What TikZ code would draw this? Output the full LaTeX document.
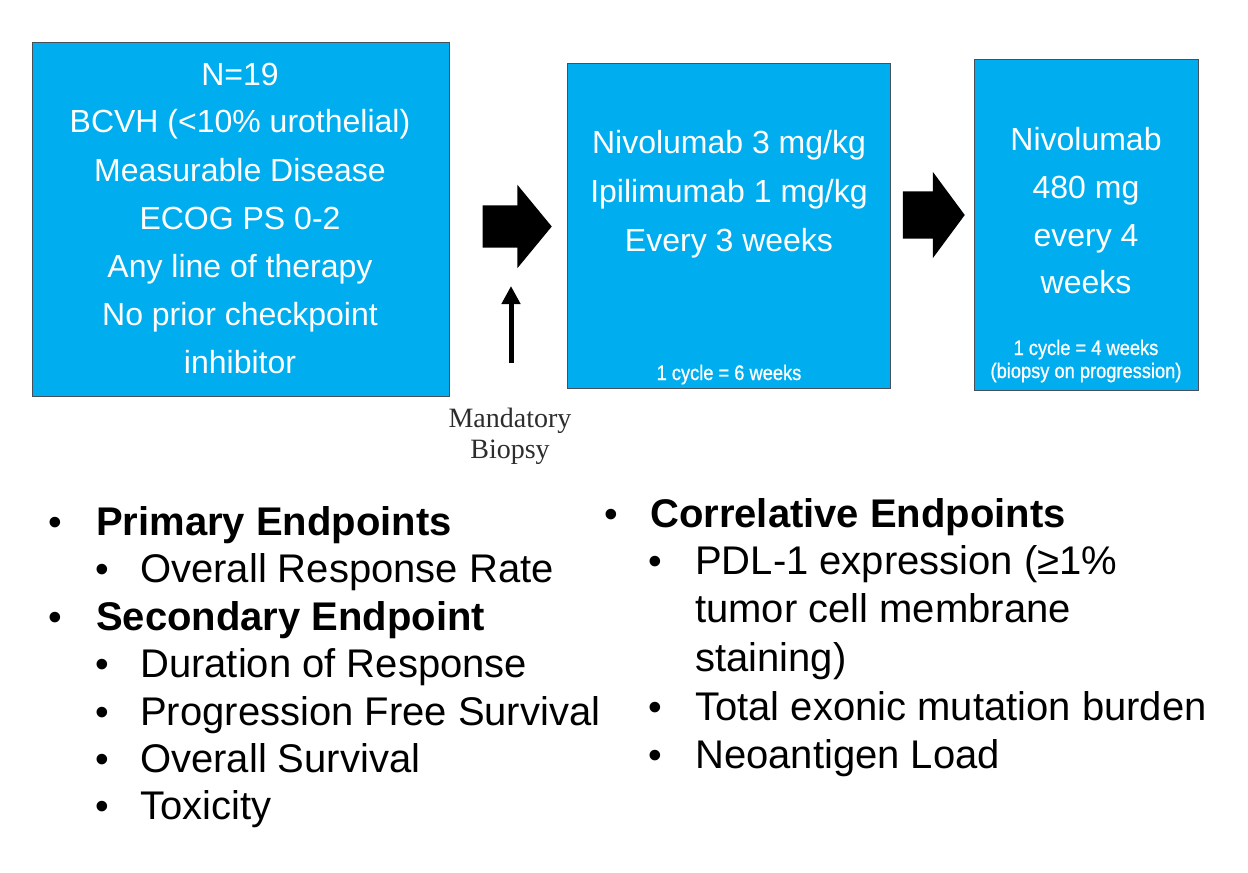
\documentclass[tikz,border=0pt]{standalone}
\usepackage{fontspec}
\setmainfont{Liberation Sans}
\newfontfamily\serifff{Liberation Serif}
\newfontfamily\smallff[FakeStretch=0.87,FakeBold=0.8]{Liberation Sans}
\usetikzlibrary{arrows.meta,shapes.arrows}
\definecolor{boxblue}{RGB}{0,174,239}
\definecolor{boxedge}{RGB}{70,80,90}
\definecolor{labelgray}{RGB}{45,45,45}
\tikzset{
  bluebox/.style={draw=boxedge, line width=1.1pt, fill=boxblue, inner sep=0pt, anchor=north west},
  boxtxt/.style={text=white, font=\fontsize{32}{38}\selectfont, anchor=base, inner sep=0pt},
  smalltxt/.style={text=white, font=\smallff\fontsize{21}{24}\selectfont, anchor=base, inner sep=0pt},
  blockarrow/.style={single arrow, fill=black, draw=none, inner xsep=0pt, single arrow head indent=0pt, anchor=tip},
  listtxt/.style={text=black, font=\fontsize{40}{46}\selectfont, anchor=base west, inner sep=0pt},
  listhead/.style={listtxt, font=\bfseries\fontsize{40}{46}\selectfont},
  bul/.style={text=black, font=\fontsize{39}{44}\selectfont, anchor=base, inner sep=0pt},
  labeltxt/.style={text=labelgray, font=\serifff\fontsize{28}{31}\selectfont, anchor=base, inner sep=0pt}
}
\begin{document}
\begin{tikzpicture}[x=1pt,y=-1pt]
\useasboundingbox (0,0) rectangle (1248,873);
\fill[white] (0,0) rectangle (1248,873);

% boxes
\node[bluebox, minimum width=417pt, minimum height=354pt] (box1) at (32,42) {};
\node[bluebox, minimum width=323pt, minimum height=325pt] (box2) at (567,63) {};
\node[bluebox, minimum width=224pt, minimum height=331pt] (box3) at (974,59) {};

% box 1 text
\node[boxtxt] (b1a) at (240,85) {N=19};
\node[boxtxt] (b1b) at (240,132) {BCVH (<10\% urothelial)};
\node[boxtxt] (b1c) at (240,181) {Measurable Disease};
\node[boxtxt] (b1d) at (240,229) {ECOG PS 0-2};
\node[boxtxt] (b1e) at (240,277) {Any line of therapy};
\node[boxtxt] (b1f) at (240,325) {No prior checkpoint};
\node[boxtxt] (b1g) at (240,373) {inhibitor};

% box 2 text
\node[boxtxt] (b2a) at (729,153) {Nivolumab 3 mg/kg};
\node[boxtxt] (b2b) at (729,202) {Ipilimumab 1 mg/kg};
\node[boxtxt] (b2c) at (729,251) {Every 3 weeks};
\node[smalltxt] (b2d) at (729,380) {1 cycle = 6 weeks};

% box 3 text
\node[boxtxt] (b3a) at (1086,150) {Nivolumab};
\node[boxtxt] (b3b) at (1086,198) {480 mg};
\node[boxtxt] (b3c) at (1086,246) {every 4};
\node[boxtxt] (b3d) at (1086,293) {weeks};
\node[smalltxt] (b3e) at (1086,355) {1 cycle = 4 weeks};
\node[smalltxt] (b3f) at (1086,378) {(biopsy on progression)};

% block arrows
\node[blockarrow, inner ysep=21pt, single arrow head extend=20.5pt,
      single arrow tip angle=101, minimum height=69pt] (arr1) at (552,226.5) {};
\node[blockarrow, inner ysep=23.5pt, single arrow head extend=19.5pt,
      single arrow tip angle=107, minimum height=62pt] (arr2) at (965,215) {};

% mandatory biopsy
\node[labeltxt] (mand1) at (510,427) {Mandatory};
\node[labeltxt] (mand2) at (510,458) {Biopsy};
\coordinate (biopA) at (511,363);
\coordinate (biopB) at (511,286);
\draw[line width=5pt, -{Triangle[width=18pt,length=18pt]}] (biopA) -- (biopB);

% left list
\node[bul] (lb1) at (55,535) {•};
\node[listhead] (lt1) at (96,535) {Primary Endpoints};
\node[bul] (lb2) at (102,582) {•};
\node[listtxt] (lt2) at (140,582) {Overall Response Rate};
\node[bul] (lb3) at (55,630) {•};
\node[listhead] (lt3) at (96,630) {Secondary Endpoint};
\node[bul] (lb4) at (102,677) {•};
\node[listtxt] (lt4) at (140,677) {Duration of Response};
\node[bul] (lb5) at (102,725) {•};
\node[listtxt] (lt5) at (140,725) {Progression Free Survival};
\node[bul] (lb6) at (102,772) {•};
\node[listtxt] (lt6) at (140,772) {Overall Survival};
\node[bul] (lb7) at (102,819) {•};
\node[listtxt] (lt7) at (140,819) {Toxicity};

% right list
\node[bul] (rb1) at (611,527) {•};
\node[listhead] (rt1) at (650,527) {Correlative Endpoints};
\node[bul] (rb2) at (655,574) {•};
\node[listtxt] (rt2) at (695,574) {PDL-1 expression (≥1\%};
\node[listtxt] (rt3) at (695,622) {tumor cell membrane};
\node[listtxt] (rt4) at (695,671) {staining)};
\node[bul] (rb5) at (655,720) {•};
\node[listtxt] (rt5) at (695,720) {Total exonic mutation burden};
\node[bul] (rb6) at (655,768) {•};
\node[listtxt] (rt6) at (695,768) {Neoantigen Load};
\end{tikzpicture}
\end{document}
